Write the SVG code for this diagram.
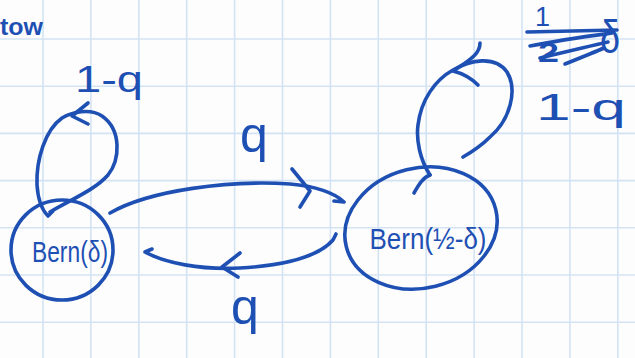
<svg xmlns="http://www.w3.org/2000/svg" width="635" height="358" viewBox="0 0 635 358">
  <style>
    .grid { stroke: #d3e3f4; stroke-width: 1.6; fill: none; }
    .ink { stroke: #1e50b4; stroke-width: 3.6; fill: none; stroke-linecap: round; stroke-linejoin: round; }
    .node { stroke: #1e50b4; stroke-width: 3.6; fill: none; }
    .lbl { fill: #1e50b4; font-family: "Liberation Sans", "DejaVu Sans", sans-serif; }
  </style>
  <rect x="0" y="0" width="635" height="358" fill="#fdfdfd"/>
  <g id="grid">
    <path class="grid" d="M43 0V358 M90.9 0V358 M138.8 0V358 M186.7 0V358 M234.6 0V358 M282.5 0V358 M330.4 0V358 M378.3 0V358 M426.2 0V358 M474.1 0V358 M522 0V358 M569.9 0V358 M617.8 0V358 M0 39H635 M0 86.2H635 M0 133.4H635 M0 180.6H635 M0 227.8H635 M0 275H635 M0 322.2H635"/>
  </g>
  <g id="note-tow">
    <text class="lbl" x="0" y="35" font-size="23" font-weight="bold" textLength="43" lengthAdjust="spacingAndGlyphs">tow</text>
  </g>
  <g id="note-crossed">
    <text class="lbl" x="535" y="26" font-size="27">1</text>
    <text class="lbl" x="538" y="62" font-size="28" font-weight="bold" textLength="21" lengthAdjust="spacingAndGlyphs">2</text>
    <text class="lbl" x="600" y="53" font-size="46" textLength="20" lengthAdjust="spacingAndGlyphs">δ</text>
    <path class="ink" d="M527 32 L617 30"/>
    <path class="ink" d="M530 46 C560 40 590 36 612 33 M540 58 C565 52 590 46 608 42 M565 64 C580 58 595 52 604 48"/>
  </g>
  <g id="node-bern-delta">
    <ellipse class="node" cx="62" cy="250" rx="51" ry="50"/>
    <text class="lbl" x="70" y="262" font-size="30" text-anchor="middle" textLength="76" lengthAdjust="spacingAndGlyphs">Bern(δ)</text>
  </g>
  <g id="node-bern-half-delta">
    <ellipse class="node" cx="421" cy="228" rx="77" ry="60" transform="rotate(-14 421 228)"/>
    <text class="lbl" x="428" y="249" font-size="30" text-anchor="middle" textLength="117" lengthAdjust="spacingAndGlyphs">Bern(½-δ)</text>
  </g>
  <g id="connectors">
    <!-- self-loop on Bern(δ) -->
    <path class="ink" d="M50 212 C70 200 95 190 108 175 C120 160 122 130 102 116 C90 108 72 112 62 118 C45 130 36 160 37 185 C38 200 42 210 48 216 L53 211"/>
    <path class="ink" d="M88 103 L72 116 L88 124"/>
    <!-- self-loop on Bern(1/2-δ) -->
    <path class="ink" d="M430 175 C420 160 416 140 418 125 C421 100 435 80 453 70 C470 60 495 55 507 72 C518 90 510 120 490 137 C480 147 470 153 463 157"/>
    <path class="ink" d="M480 43 C480 52 474 58 453 71 C465 74 472 79 478 85"/>
    <path class="ink" d="M430 175 C422 178 418 186 414 193"/>
    <!-- Bern(δ) -> Bern(1/2-δ) -->
    <path class="ink" d="M110 213 C150 190 230 180 290 184 C315 186 335 193 344 202 L334 201"/>
    <path class="ink" d="M292 169 L310 191 L300 207"/>
    <!-- Bern(1/2-δ) -> Bern(δ) -->
    <path class="ink" d="M336 234 L333 240 C320 255 290 265 240 268 C200 270 165 263 145 252 L152 249"/>
    <path class="ink" d="M240 253 L222 267 L238 277"/>
  </g>
  <g id="labels">
    <text class="lbl" x="75" y="92" font-size="36" textLength="68" lengthAdjust="spacingAndGlyphs">1-q</text>
    <text class="lbl" x="536" y="120" font-size="36" textLength="90" lengthAdjust="spacingAndGlyphs">1-q</text>
    <text class="lbl" x="254" y="152" font-size="50" text-anchor="middle">q</text>
    <text class="lbl" x="245" y="324" font-size="50" text-anchor="middle">q</text>
  </g>
</svg>
